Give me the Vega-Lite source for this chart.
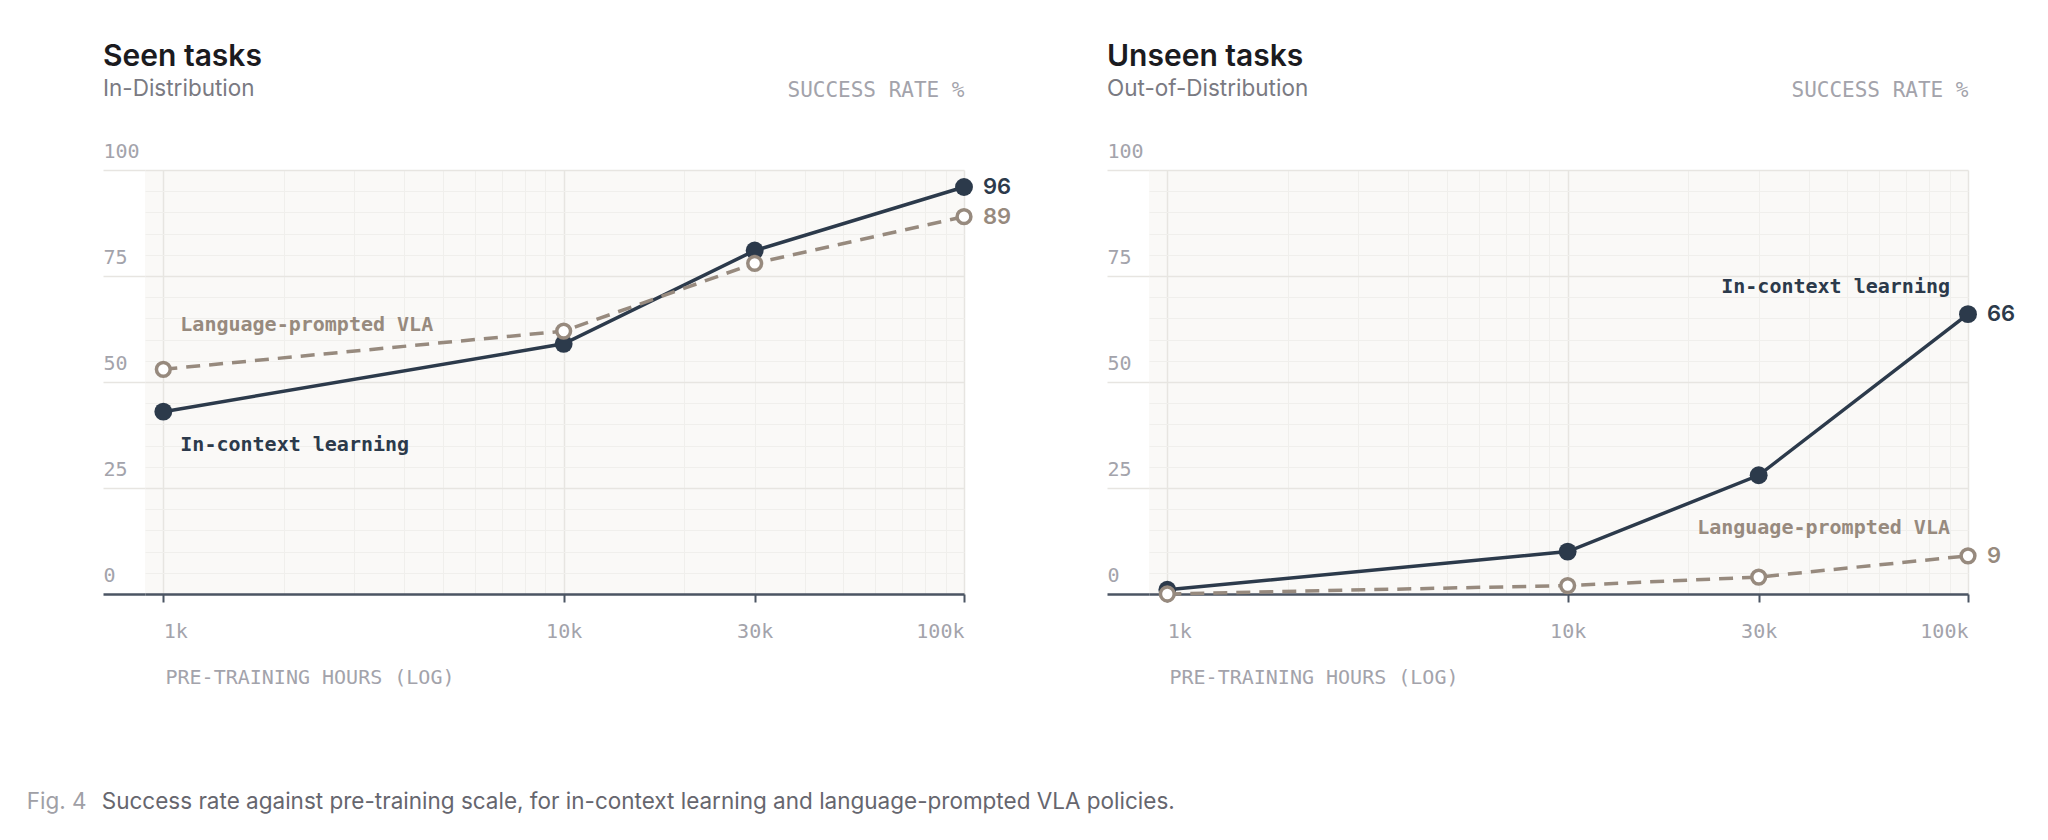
{
  "$schema": "https://vega.github.io/schema/vega-lite/v6.json",
  "background": "white",
  "padding": {"left": 26, "top": 41, "right": 10, "bottom": 10},
  "datasets": {
    "scores": [
      {"panel": "seen", "series": "In-context learning", "hours": 1000, "rate": 43},
      {"panel": "seen", "series": "In-context learning", "hours": 10000, "rate": 59},
      {"panel": "seen", "series": "In-context learning", "hours": 30000, "rate": 81},
      {"panel": "seen", "series": "In-context learning", "hours": 100000, "rate": 96},
      {"panel": "seen", "series": "Language-prompted VLA", "hours": 1000, "rate": 53},
      {"panel": "seen", "series": "Language-prompted VLA", "hours": 10000, "rate": 62},
      {"panel": "seen", "series": "Language-prompted VLA", "hours": 30000, "rate": 78},
      {"panel": "seen", "series": "Language-prompted VLA", "hours": 100000, "rate": 89},
      {"panel": "unseen", "series": "In-context learning", "hours": 1000, "rate": 1},
      {"panel": "unseen", "series": "In-context learning", "hours": 10000, "rate": 10},
      {"panel": "unseen", "series": "In-context learning", "hours": 30000, "rate": 28},
      {"panel": "unseen", "series": "In-context learning", "hours": 100000, "rate": 66},
      {"panel": "unseen", "series": "Language-prompted VLA", "hours": 1000, "rate": 0},
      {"panel": "unseen", "series": "Language-prompted VLA", "hours": 10000, "rate": 2},
      {"panel": "unseen", "series": "Language-prompted VLA", "hours": 30000, "rate": 4},
      {"panel": "unseen", "series": "Language-prompted VLA", "hours": 100000, "rate": 9}
    ]
  },
  "title": {
    "text": "Success rate against pre-training scale, for in-context learning and language-prompted VLA policies.",
    "orient": "bottom",
    "anchor": "start",
    "frame": "bounds",
    "dx": 75,
    "dy": -22.5,
    "offset": 0,
    "font": "Inter",
    "fontSize": 22.5,
    "fontWeight": "normal",
    "color": "#66666e"
  },
  "vconcat": [
    {
      "title": {
        "text": "Fig. 4",
        "orient": "bottom",
        "anchor": "start",
        "frame": "bounds",
        "dx": -75,
        "offset": 104,
        "font": "Inter",
        "fontSize": 22.5,
        "fontWeight": "normal",
        "color": "#a0a0a6"
      },
      "bounds": "flush",
      "spacing": 185,
      "hconcat": [
        {
          "width": 819,
          "height": 424,
          "title": {
            "text": "Seen tasks",
            "subtitle": "In-Distribution",
            "anchor": "start",
            "frame": "group",
            "dx": -42,
            "offset": -21,
            "font": "Inter",
            "fontSize": 30,
            "fontWeight": 600,
            "color": "#1b1b1f",
            "subtitleFont": "Inter",
            "subtitleFontSize": 22.5,
            "subtitleColor": "#7a7a82",
            "subtitlePadding": 6
          },
          "data": {"name": "scores"},
          "transform": [{"filter": "datum.panel === 'seen'"}],
          "encoding": {
            "x": {
              "field": "hours",
              "type": "quantitative",
              "scale": {"type": "log", "domain": [900, 100000], "nice": false},
              "axis": {
                "values": [1000, 2000, 3000, 4000, 5000, 6000, 7000, 8000, 9000, 10000, 20000, 30000, 40000, 50000, 60000, 70000, 80000, 90000, 100000],
                "grid": true,
                "gridColor": {"condition": {"test": "datum.value === 1000 || datum.value === 10000 || datum.value === 100000", "value": "#e7e5e1"}, "value": "#f0efec"},
                "gridWidth": {"condition": {"test": "datum.value === 1000 || datum.value === 10000 || datum.value === 100000", "value": 1.5}, "value": 1},
                "domain": true,
                "domainColor": "#4b5563",
                "domainWidth": 2.5,
                "ticks": true,
                "tickSize": 8,
                "tickWidth": 2,
                "tickColor": {"condition": {"test": "indexof([1000, 10000, 30000, 100000], datum.value) >= 0", "value": "#4b5563"}, "value": "transparent"},
                "labelExpr": "indexof([1000, 10000, 30000, 100000], datum.value) >= 0 ? format(datum.value / 1000, 'd') + 'k' : ''",
                "labelAlign": {"condition": [{"test": "datum.value === 1000", "value": "left"}, {"test": "datum.value === 100000", "value": "right"}], "value": "center"},
                "labelBaseline": "top",
                "labelPadding": 19,
                "labelFont": "DejaVu Sans Mono",
                "labelFontSize": 20,
                "labelColor": "#a3a3ab",
                "labelOverlap": false,
                "labelBound": false,
                "labelFlush": false,
                "title": "PRE-TRAINING HOURS (LOG)",
                "titleX": 20,
                "titleY": 89,
                "titleAlign": "left",
                "titleBaseline": "alphabetic",
                "titleFont": "DejaVu Sans Mono",
                "titleFontSize": 20,
                "titleFontWeight": "normal",
                "titleColor": "#a3a3ab"
              }
            },
            "y": {
              "field": "rate",
              "type": "quantitative",
              "scale": {"domain": [0, 100], "nice": false},
              "axis": {
                "values": [0, 5, 10, 15, 20, 25, 30, 35, 40, 45, 50, 55, 60, 65, 70, 75, 80, 85, 90, 95, 100],
                "domain": false,
                "grid": true,
                "gridColor": {"condition": {"test": "datum.value % 25 === 0", "value": "#e7e5e1"}, "value": "#f0efec"},
                "gridWidth": {"condition": {"test": "datum.value % 25 === 0", "value": 1.5}, "value": 1},
                "ticks": true,
                "tickSize": 42,
                "tickColor": {"condition": [{"test": "datum.value === 0", "value": "#4b5563"}, {"test": "datum.value % 25 === 0", "value": "#e7e5e1"}], "value": "transparent"},
                "tickWidth": {"condition": {"test": "datum.value === 0", "value": 2.5}, "value": 1.5},
                "labelExpr": "datum.value % 25 === 0 ? datum.label : ''",
                "labelAlign": "left",
                "labelBaseline": "alphabetic",
                "labelOffset": -13,
                "labelPadding": 0,
                "labelFont": "DejaVu Sans Mono",
                "labelFontSize": 20,
                "labelColor": "#a3a3ab",
                "labelOverlap": false,
                "labelBound": false,
                "title": "SUCCESS RATE %",
                "titleAngle": 0,
                "titleX": 819,
                "titleY": -74,
                "titleAlign": "right",
                "titleBaseline": "alphabetic",
                "titleFont": "DejaVu Sans Mono",
                "titleFontSize": 21,
                "titleFontWeight": "normal",
                "titleColor": "#a3a3ab"
              }
            }
          },
          "layer": [
            {
              "transform": [{"filter": "datum.series === 'In-context learning'"}],
              "mark": {"type": "line", "color": "#2c3a4b", "strokeWidth": 3.5},
              "encoding": {}
            },
            {
              "transform": [{"filter": "datum.series === 'In-context learning'"}],
              "mark": {"type": "circle", "color": "#2c3a4b", "size": 320, "opacity": 1}
            },
            {
              "transform": [{"filter": "datum.series === 'Language-prompted VLA'"}],
              "mark": {"type": "line", "color": "#978a7e", "strokeWidth": 3.5, "strokeDash": [14, 9]},
              "encoding": {}
            },
            {
              "transform": [{"filter": "datum.series === 'Language-prompted VLA'"}],
              "mark": {"type": "point", "shape": "circle", "filled": true, "fill": "white", "stroke": "#978a7e", "strokeWidth": 3.5, "size": 190, "opacity": 1}
            },
            {
              "transform": [{"filter": "datum.hours === 100000"}],
              "mark": {"type": "text", "align": "left", "baseline": "middle", "dx": 19, "font": "Inter", "fontSize": 22, "fontWeight": 600},
              "encoding": {
                "text": {"field": "rate", "type": "quantitative"},
                "color": {"field": "series", "type": "nominal", "scale": {"domain": ["In-context learning", "Language-prompted VLA"], "range": ["#2c3a4b", "#978a7e"]}, "legend": null}
              }
            },
            {
              "transform": [{"filter": "datum.hours === 1000 && datum.series === 'Language-prompted VLA'"}],
              "mark": {"type": "text", "align": "left", "baseline": "alphabetic", "dx": 17, "dy": -38, "font": "DejaVu Sans Mono", "fontSize": 20, "fontWeight": "bold", "color": "#978a7e"},
              "encoding": {"text": {"field": "series", "type": "nominal"}}
            },
            {
              "transform": [{"filter": "datum.hours === 1000 && datum.series === 'In-context learning'"}],
              "mark": {"type": "text", "align": "left", "baseline": "alphabetic", "dx": 17, "dy": 39, "font": "DejaVu Sans Mono", "fontSize": 20, "fontWeight": "bold", "color": "#2c3a4b"},
              "encoding": {"text": {"field": "series", "type": "nominal"}}
            }
          ]
        },
        {
          "width": 819,
          "height": 424,
          "title": {
            "text": "Unseen tasks",
            "subtitle": "Out-of-Distribution",
            "anchor": "start",
            "frame": "group",
            "dx": -42,
            "offset": -21,
            "font": "Inter",
            "fontSize": 30,
            "fontWeight": 600,
            "color": "#1b1b1f",
            "subtitleFont": "Inter",
            "subtitleFontSize": 22.5,
            "subtitleColor": "#7a7a82",
            "subtitlePadding": 6
          },
          "data": {"name": "scores"},
          "transform": [{"filter": "datum.panel === 'unseen'"}],
          "encoding": {
            "x": {
              "field": "hours",
              "type": "quantitative",
              "scale": {"type": "log", "domain": [900, 100000], "nice": false},
              "axis": {
                "values": [1000, 2000, 3000, 4000, 5000, 6000, 7000, 8000, 9000, 10000, 20000, 30000, 40000, 50000, 60000, 70000, 80000, 90000, 100000],
                "grid": true,
                "gridColor": {"condition": {"test": "datum.value === 1000 || datum.value === 10000 || datum.value === 100000", "value": "#e7e5e1"}, "value": "#f0efec"},
                "gridWidth": {"condition": {"test": "datum.value === 1000 || datum.value === 10000 || datum.value === 100000", "value": 1.5}, "value": 1},
                "domain": true,
                "domainColor": "#4b5563",
                "domainWidth": 2.5,
                "ticks": true,
                "tickSize": 8,
                "tickWidth": 2,
                "tickColor": {"condition": {"test": "indexof([1000, 10000, 30000, 100000], datum.value) >= 0", "value": "#4b5563"}, "value": "transparent"},
                "labelExpr": "indexof([1000, 10000, 30000, 100000], datum.value) >= 0 ? format(datum.value / 1000, 'd') + 'k' : ''",
                "labelAlign": {"condition": [{"test": "datum.value === 1000", "value": "left"}, {"test": "datum.value === 100000", "value": "right"}], "value": "center"},
                "labelBaseline": "top",
                "labelPadding": 19,
                "labelFont": "DejaVu Sans Mono",
                "labelFontSize": 20,
                "labelColor": "#a3a3ab",
                "labelOverlap": false,
                "labelBound": false,
                "labelFlush": false,
                "title": "PRE-TRAINING HOURS (LOG)",
                "titleX": 20,
                "titleY": 89,
                "titleAlign": "left",
                "titleBaseline": "alphabetic",
                "titleFont": "DejaVu Sans Mono",
                "titleFontSize": 20,
                "titleFontWeight": "normal",
                "titleColor": "#a3a3ab"
              }
            },
            "y": {
              "field": "rate",
              "type": "quantitative",
              "scale": {"domain": [0, 100], "nice": false},
              "axis": {
                "values": [0, 5, 10, 15, 20, 25, 30, 35, 40, 45, 50, 55, 60, 65, 70, 75, 80, 85, 90, 95, 100],
                "domain": false,
                "grid": true,
                "gridColor": {"condition": {"test": "datum.value % 25 === 0", "value": "#e7e5e1"}, "value": "#f0efec"},
                "gridWidth": {"condition": {"test": "datum.value % 25 === 0", "value": 1.5}, "value": 1},
                "ticks": true,
                "tickSize": 42,
                "tickColor": {"condition": [{"test": "datum.value === 0", "value": "#4b5563"}, {"test": "datum.value % 25 === 0", "value": "#e7e5e1"}], "value": "transparent"},
                "tickWidth": {"condition": {"test": "datum.value === 0", "value": 2.5}, "value": 1.5},
                "labelExpr": "datum.value % 25 === 0 ? datum.label : ''",
                "labelAlign": "left",
                "labelBaseline": "alphabetic",
                "labelOffset": -13,
                "labelPadding": 0,
                "labelFont": "DejaVu Sans Mono",
                "labelFontSize": 20,
                "labelColor": "#a3a3ab",
                "labelOverlap": false,
                "labelBound": false,
                "title": "SUCCESS RATE %",
                "titleAngle": 0,
                "titleX": 819,
                "titleY": -74,
                "titleAlign": "right",
                "titleBaseline": "alphabetic",
                "titleFont": "DejaVu Sans Mono",
                "titleFontSize": 21,
                "titleFontWeight": "normal",
                "titleColor": "#a3a3ab"
              }
            }
          },
          "layer": [
            {
              "transform": [{"filter": "datum.series === 'In-context learning'"}],
              "mark": {"type": "line", "color": "#2c3a4b", "strokeWidth": 3.5},
              "encoding": {}
            },
            {
              "transform": [{"filter": "datum.series === 'In-context learning'"}],
              "mark": {"type": "circle", "color": "#2c3a4b", "size": 320, "opacity": 1}
            },
            {
              "transform": [{"filter": "datum.series === 'Language-prompted VLA'"}],
              "mark": {"type": "line", "color": "#978a7e", "strokeWidth": 3.5, "strokeDash": [14, 9]},
              "encoding": {}
            },
            {
              "transform": [{"filter": "datum.series === 'Language-prompted VLA'"}],
              "mark": {"type": "point", "shape": "circle", "filled": true, "fill": "white", "stroke": "#978a7e", "strokeWidth": 3.5, "size": 190, "opacity": 1}
            },
            {
              "transform": [{"filter": "datum.hours === 100000"}],
              "mark": {"type": "text", "align": "left", "baseline": "middle", "dx": 19, "font": "Inter", "fontSize": 22, "fontWeight": 600},
              "encoding": {
                "text": {"field": "rate", "type": "quantitative"},
                "color": {"field": "series", "type": "nominal", "scale": {"domain": ["In-context learning", "Language-prompted VLA"], "range": ["#2c3a4b", "#978a7e"]}, "legend": null}
              }
            },
            {
              "transform": [{"filter": "datum.hours === 100000 && datum.series === 'In-context learning'"}],
              "mark": {"type": "text", "align": "right", "baseline": "alphabetic", "dx": -18, "dy": -21, "font": "DejaVu Sans Mono", "fontSize": 20, "fontWeight": "bold", "color": "#2c3a4b"},
              "encoding": {"text": {"field": "series", "type": "nominal"}}
            },
            {
              "transform": [{"filter": "datum.hours === 100000 && datum.series === 'Language-prompted VLA'"}],
              "mark": {"type": "text", "align": "right", "baseline": "alphabetic", "dx": -18, "dy": -22, "font": "DejaVu Sans Mono", "fontSize": 20, "fontWeight": "bold", "color": "#978a7e"},
              "encoding": {"text": {"field": "series", "type": "nominal"}}
            }
          ]
        }
      ]
    }
  ],
  "config": {
    "font": "Inter",
    "view": {"stroke": null, "fill": "#faf9f7"}
  }
}
